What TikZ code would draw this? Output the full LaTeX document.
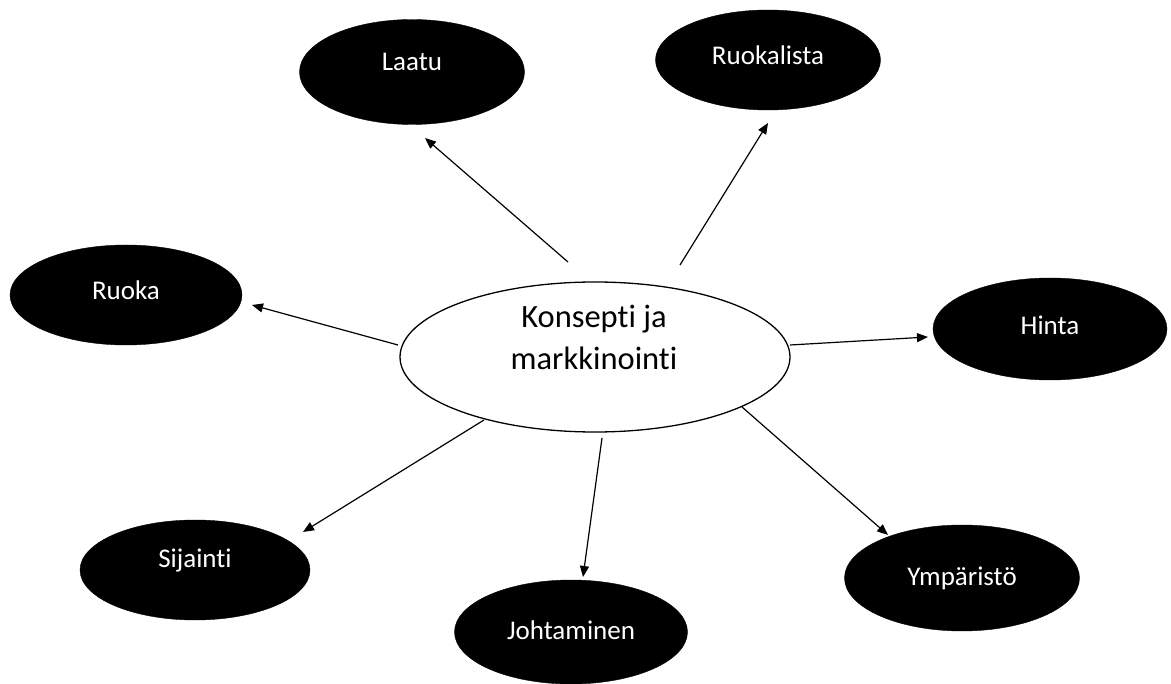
\documentclass[tikz,border=0pt]{standalone}
\usepackage{fontspec}
\setmainfont{Carlito}[Ligatures={NoCommon}]
\usetikzlibrary{shapes.geometric,arrows.meta}
\tikzset{
  blob/.style={ellipse,fill=black,draw=black,inner sep=0pt},
  hub/.style={ellipse,draw=black,line width=1.3pt,fill=white,inner sep=0pt},
  lbl/.style={text=white,font=\fontsize{27}{32}\selectfont},
  link/.style={line width=1.2pt,-{Triangle[length=11pt,width=9pt]}}
}
\begin{document}
\begin{tikzpicture}[x=1pt,y=-1pt]
\useasboundingbox (0,0) rectangle (1171,684);
% hub
\node[hub,minimum width=390pt,minimum height=150pt] (c) at (595,357) {};
\node[font=\fontsize{32.5}{42}\selectfont,align=center] (ct) at (594,337) {Konsepti ja\\markkinointi};
% outer nodes
\node[blob,minimum width=225pt,minimum height=105pt] (laatu) at (412,72) {};
\node[lbl] (laatut) at (412,62) {Laatu};
\node[blob,minimum width=225pt,minimum height=100pt] (ruokalista) at (768,60) {};
\node[lbl] (ruokalistat) at (768,55) {Ruokalista};
\node[blob,minimum width=232pt,minimum height=100pt] (ruoka) at (126,295) {};
\node[lbl] (ruokat) at (126,290) {Ruoka};
\node[blob,minimum width=234pt,minimum height=102pt] (hinta) at (1050,329) {};
\node[lbl] (hintat) at (1050,325) {Hinta};
\node[blob,minimum width=230pt,minimum height=100pt] (sijainti) at (195,570) {};
\node[lbl] (sijaintit) at (195,561) {Sijainti};
\node[blob,minimum width=233pt,minimum height=104pt] (johtaminen) at (571,632) {};
\node[lbl] (johtaminent) at (571,630) {Johtaminen};
\node[blob,minimum width=235pt,minimum height=106pt] (ymparisto) at (962,578) {};
\node[lbl] (ymparistot) at (962,578) {Ympäristö};
% connector ends
\coordinate (s1) at (568,262); \coordinate (e1) at (425,138);
\coordinate (s2) at (680,265); \coordinate (e2) at (768,123);
\coordinate (s3) at (398,345); \coordinate (e3) at (252,305);
\coordinate (s4) at (790,345); \coordinate (e4) at (928,337);
\coordinate (s5) at (484,420); \coordinate (e5) at (303,532);
\coordinate (s6) at (602,438); \coordinate (e6) at (583,577);
\coordinate (s7) at (742,407); \coordinate (e7) at (888,535);
\draw[link] (s1) -- (e1);
\draw[link] (s2) -- (e2);
\draw[link] (s3) -- (e3);
\draw[link] (s4) -- (e4);
\draw[link] (s5) -- (e5);
\draw[link] (s6) -- (e6);
\draw[link] (s7) -- (e7);
\end{tikzpicture}
\end{document}
